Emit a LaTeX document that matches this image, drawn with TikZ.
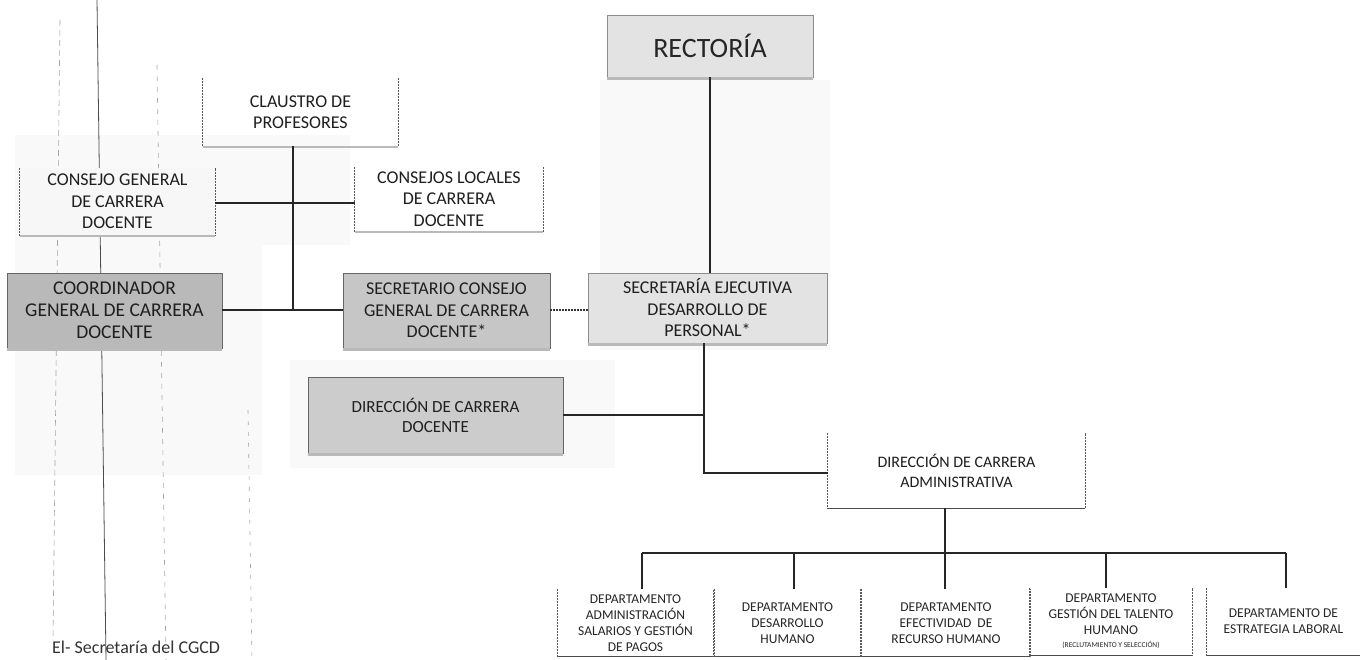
\documentclass[tikz,border=0pt]{standalone}
\usepackage{fontspec}
\setmainfont{Carlito}
\begin{document}
\begin{tikzpicture}[x=1pt,y=-1pt,
  lbl/.style={inner sep=2pt, align=center, font=\fontsize{18}{21.5}\selectfont, text=black!88},
  lblsm/.style={inner sep=2pt, align=center, font=\fontsize{16}{20}\selectfont, text=black!88},
  dept/.style={inner sep=1pt, align=center, font=\fontsize{13.5}{16}\selectfont, text=black!85},
  shaded/.style={draw=black!60, line width=0.8pt},
  edgeln/.style={draw=black!65, line width=0.7pt, dash pattern=on 2pt off 1pt},
  shadowln/.style={draw=gray!55, line width=2.5pt},
  conn/.style={draw=black!85, line width=1.1pt},
  dotconn/.style={draw=black!80, line width=1.1pt, dash pattern=on 1.6pt off 1.4pt},
  scanln/.style={draw=gray!70, line width=0.6pt},
  faint/.style={fill=gray!5, draw=none}
]
\useasboundingbox (0,0) rectangle (1360,660);
\fill[white] (0,0) rectangle (1360,660);

% faint scan backgrounds
\path[faint] (15,135) rectangle (350,245);
\path[faint] (15,245) rectangle (262,475);
\path[faint] (600,80) rectangle (830,350);
\path[faint] (290,360) rectangle (615,468);

% scan artefact lines on the left
\draw[scanln, dash pattern=on 6pt off 4pt] (60,20) -- (53,640);
\draw[scanln, line width=0.8pt, draw=black!70] (97,0) -- (106,660);
\draw[scanln, dash pattern=on 5pt off 6pt] (157,65) -- (166,660);
\draw[scanln, dash pattern=on 4pt off 7pt] (248,410) -- (252,660);

% white boxes
\node[lbl, minimum width=195pt, minimum height=68pt] (claustro) at (300.5,112) {CLAUSTRO DE\\PROFESORES};
\node[lbl, fill=gray!6, minimum width=195pt, minimum height=67pt] (cgcd) at (117.5,201.5) {CONSEJO GENERAL\\DE CARRERA\\DOCENTE};
\node[lbl, minimum width=188pt, minimum height=64pt] (clcd) at (449,199) {CONSEJOS LOCALES\\DE CARRERA\\DOCENTE};
\node[lblsm, minimum width=257pt, minimum height=75pt] (dca) at (956.5,470.5) {DIRECCIÓN DE CARRERA\\ADMINISTRATIVA};

% shaded boxes
\node[lbl, shaded, fill=gray!55, font=\fontsize{19.5}{22}\selectfont, minimum width=215pt, minimum height=75pt] (coord) at (114.5,310.5) {COORDINADOR\\GENERAL DE CARRERA\\DOCENTE};
\node[lbl, shaded, fill=gray!45, minimum width=207pt, minimum height=75pt] (secr) at (446.5,310.5) {SECRETARIO CONSEJO\\GENERAL DE CARRERA\\DOCENTE*};
\node[lbl, shaded, fill=gray!22, draw=black!45, minimum width=239pt, minimum height=70pt] (sedp) at (707.5,308) {SECRETARÍA EJECUTIVA\\DESARROLLO DE\\PERSONAL*};
\node[lblsm, shaded, fill=gray!40, font=\fontsize{17}{20}\selectfont, minimum width=255pt, minimum height=76pt] (dcd) at (435.5,415) {DIRECCIÓN DE CARRERA\\DOCENTE};
\node[shaded, fill=gray!22, draw=black!45, inner sep=2pt, font=\fontsize{28}{32}\selectfont, text=black!85, minimum width=206pt, minimum height=62pt] (rect) at (710,46) {RECTORÍA};

% department boxes
\node[dept, minimum width=155pt, minimum height=67pt] (d1) at (635.5,623) {DEPARTAMENTO\\ADMINISTRACIÓN\\SALARIOS Y GESTIÓN\\DE PAGOS};
\node[dept, minimum width=145pt, minimum height=67pt] (d2) at (787.5,623) {DEPARTAMENTO\\DESARROLLO\\HUMANO};
\node[dept, minimum width=168pt, minimum height=67pt] (d3) at (946,623) {DEPARTAMENTO\\EFECTIVIDAD\ \ DE\\RECURSO HUMANO};
\node[dept, minimum width=162pt, minimum height=67pt] (d4) at (1111,621.5) {DEPARTAMENTO\\GESTIÓN DEL TALENTO\\HUMANO\\[-3pt]{\fontsize{7.5}{8}\selectfont (RECLUTAMIENTO Y SELECCIÓN)}};
\node[dept, minimum width=153pt, minimum height=67pt] (d5) at (1283.5,621.5) {DEPARTAMENTO DE\\ESTRATEGIA LABORAL};

% open-top borders of white boxes
\foreach \n in {claustro,cgcd,clcd,dca,d1,d2,d3,d4,d5}{
  \draw[edgeln] (\n.north west) -- (\n.south west) -- (\n.south east) -- (\n.north east);
}
\foreach \n in {claustro,cgcd,clcd,coord,secr,sedp,dcd,rect}{
  \draw[shadowln] ([yshift=-1pt]\n.south west) -- ([yshift=-1pt]\n.south east);
}
\foreach \n in {dca,d1,d2,d3,d4,d5}{
  \draw[draw=black!70, line width=1.2pt] (\n.south west) -- (\n.south east);
}

% connectors, left part
\coordinate (j1) at (293,310);
\coordinate (j2) at (293,203);
\draw[conn] (claustro.south -| j1) -- (j1);
\draw[conn] (cgcd.east |- j2) -- (clcd.west |- j2);
\draw[conn] (coord.east |- j1) -- (secr.west |- j1);
\draw[dotconn] (secr.east |- j1) -- (sedp.west |- j1);

% connectors, right part
\coordinate (r1) at (710,0);
\draw[conn] (rect.south -| r1) -- (sedp.north -| r1);
\coordinate (v1) at (704,473);
\draw[conn] (sedp.south -| v1) -- (v1) -- (dca.west |- v1);
\coordinate (h1) at (704,415);
\draw[conn] (dcd.east |- h1) -- (h1);

% bus to departments
\coordinate (bus) at (945,553);
\draw[conn] (dca.south -| bus) -- (bus);
\coordinate (bl) at (642,553);
\coordinate (br) at (1286,553);
\draw[conn] (bl) -- (br);
\foreach \n/\xx in {d1/642,d2/794,d3/945,d4/1106,d5/1286}{
  \draw[conn] (\xx,553) -- (\n.north -| \xx,0);
}

% footnote
\node[anchor=north west, inner sep=0pt, font=\fontsize{18}{20}\selectfont, text=black!80] (foot) at (52,641) {El- Secretaría del CGCD};
\end{tikzpicture}
\end{document}
